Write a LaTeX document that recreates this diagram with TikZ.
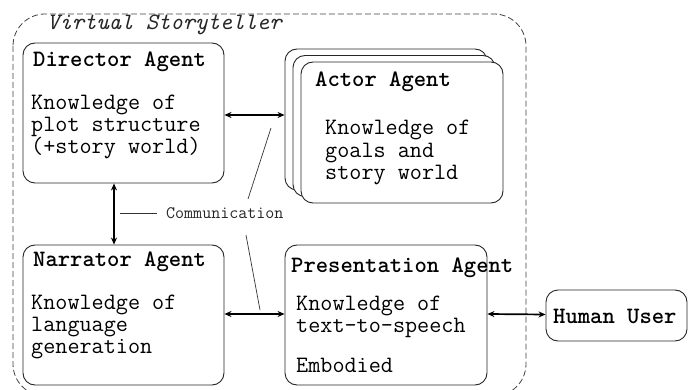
\documentclass[tikz,border=0pt]{standalone}
\usetikzlibrary{arrows.meta}
\newcommand\agentfont{\ttfamily\fontsize{23.5}{21.7}\selectfont}
\begin{document}
\begin{tikzpicture}[x=1pt,y=-1pt,
  box/.style={draw=black!85, fill=white, rounded corners=12pt, line width=0.9pt, inner sep=0pt},
  title/.style={anchor=west, inner sep=0pt, font=\agentfont\bfseries},
  body/.style={anchor=west, inner sep=0pt, align=left, font=\agentfont},
  link/.style={line width=1.7pt, {Stealth[length=7pt,width=6pt]}-{Stealth[length=7pt,width=6pt]}},
  thin/.style={line width=0.7pt, draw=black!80},
  frame/.style={draw=black!75, line width=0.8pt, dash pattern=on 6pt off 3pt, rounded corners=32pt}]
\useasboundingbox (0,0) rectangle (693,390);

% enclosing system boundary
\draw[frame] (13,14) rectangle (526,396);
\node[anchor=west, inner sep=0pt, font=\agentfont\itshape, text=black!85] (vs) at (47,25) {Virtual Storyteller};

% agents
\node[box, minimum width=201pt, minimum height=140pt] (director) at (123.5,113) {};
\node[title] (directorT) at (33,62) {Director Agent};
\node[body] (directorB) at (31,127) {Knowledge of\\plot structure\\(+story world)};

\node[box, minimum width=202pt, minimum height=141pt] (actorC) at (386,119.5) {};
\node[box, minimum width=202pt, minimum height=141pt] (actorB) at (394,126) {};
\node[box, minimum width=202pt, minimum height=141pt] (actor) at (402,132.5) {};
\node[title] (actorT) at (315,82) {Actor Agent};
\node[body, font=\ttfamily\fontsize{23.5}{22.5}\selectfont] (actorBody) at (325,152.5) {Knowledge of\\goals and\\story world};

\node[box, minimum width=201pt, minimum height=140pt] (narrator) at (123.5,315) {};
\node[title] (narratorT) at (33,262) {Narrator Agent};
\node[body] (narratorB) at (31,327) {Knowledge of\\language\\generation};

\node[box, minimum width=202pt, minimum height=140pt] (present) at (386,315) {};
\node[title] (presentT) at (291,268) {Presentation Agent};
\node[body] (presentB) at (296,317) {Knowledge of\\text-to-speech};
\node[body] (presentE) at (296,365) {Embodied};

\node[box, minimum width=141pt, minimum height=51pt] (human) at (616.5,315.5) {};
\node[title] (humanT) at (553,316) {Human User};

% communication links
\draw[link] (director.east |- 0,115) -- (actorC.west |- 0,115);
\draw[link] ([xshift=-9.5pt]director.south) -- ([xshift=-9.5pt]narrator.north);
\draw[link] ([yshift=1pt]narrator.east) -- ([yshift=1pt]present.west);
\draw[link] ([yshift=1pt]present.east) -- ([yshift=1pt]human.west);

% annotation
\node[anchor=west, inner sep=0pt, font=\ttfamily\fontsize{17.5}{18}\selectfont, text=black!85] (comm) at (166,213) {Communication};
\coordinate (cL) at (120,213);
\coordinate (cA) at (271,128);
\coordinate (cA0) at (248,199);
\coordinate (cN0) at (246,235);
\coordinate (cN) at (260,310);
\draw[thin] ([xshift=-9pt]comm.west) -- (cL);
\draw[thin] (cA0) -- (cA);
\draw[thin] (cN0) -- (cN);
\end{tikzpicture}
\end{document}
